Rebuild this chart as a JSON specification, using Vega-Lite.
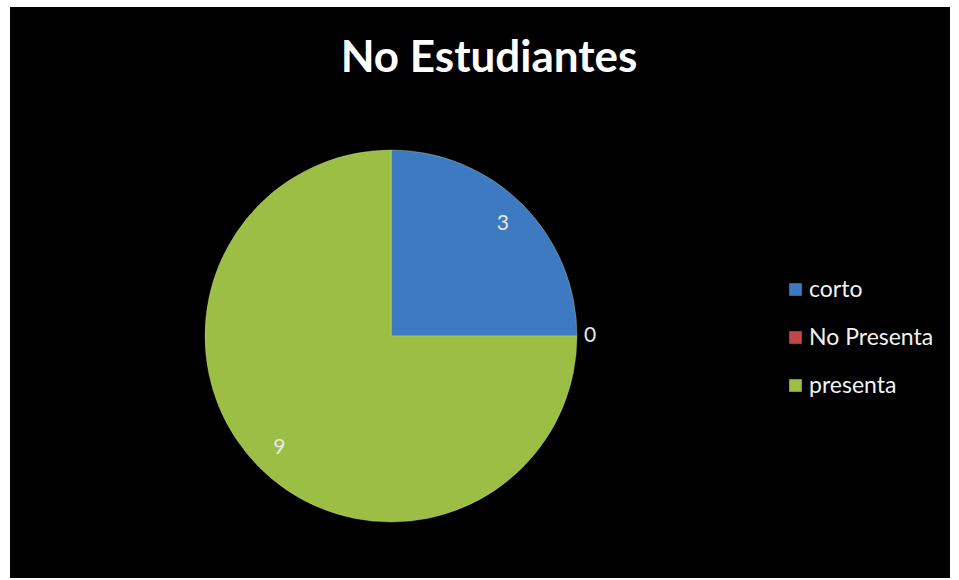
{
  "$schema": "https://vega.github.io/schema/vega-lite/v6.json",
  "width": 959,
  "height": 580,
  "autosize": {"type": "fit", "contains": "padding"},
  "padding": {"left": 10, "top": 7, "right": 9, "bottom": 2},
  "background": "white",
  "config": {
    "view": {"fill": "black", "stroke": null},
    "font": "Lato"
  },
  "title": {
    "text": "No Estudiantes",
    "orient": "top",
    "anchor": "middle",
    "offset": -109,
    "baseline": "alphabetic",
    "dx": 9,
    "font": "Lato",
    "fontSize": 44,
    "fontWeight": "bold",
    "color": "white"
  },
  "data": {
    "values": [
      {"categoria": "corto", "valor": 3},
      {"categoria": "No Presenta", "valor": 0},
      {"categoria": "presenta", "valor": 9}
    ]
  },
  "encoding": {
    "theta": {"field": "valor", "type": "quantitative", "stack": true},
    "x": {"value": 381},
    "y": {"value": 329}
  },
  "layer": [
    {
      "mark": {"type": "arc", "outerRadius": 186, "stroke": "#c8dc90", "strokeWidth": 0.6, "strokeOpacity": 0.6},
      "encoding": {
        "color": {
          "field": "categoria",
          "type": "nominal",
          "sort": ["corto", "No Presenta", "presenta"],
          "scale": {
            "domain": ["corto", "No Presenta", "presenta"],
            "range": ["#3d7ac2", "#c2474a", "#9cbe45"]
          },
          "legend": {
            "title": null,
            "orient": "none",
            "legendX": 774,
            "legendY": 271,
            "symbolType": "square",
            "symbolSize": 160,
            "symbolStrokeWidth": 0,
            "labelColor": "#f2f2f2",
            "labelFont": "Lato",
            "labelFontSize": 23,
            "labelOffset": 2,
            "rowPadding": 24,
            "padding": 0,
            "labelLimit": 300,
            "labelExpr": "datum.label == 'presenta' ? '\u2002\u2002presenta' : datum.label"
          }
        }
      }
    },
    {
      "mark": {
        "type": "text", "fontSize": 21, "font": "Lato", "color": "#e8e8e8", "radius": 158,
        "text": {"expr": "datum.valor > 0 ? toString(datum.valor) : ''"}
      }
    },
    {
      "mark": {
        "type": "text", "fontSize": 21, "font": "Lato", "color": "#e8e8e8", "radius": 199,
        "text": {"expr": "datum.valor == 0 ? toString(datum.valor) : ''"}
      }
    }
  ]
}
